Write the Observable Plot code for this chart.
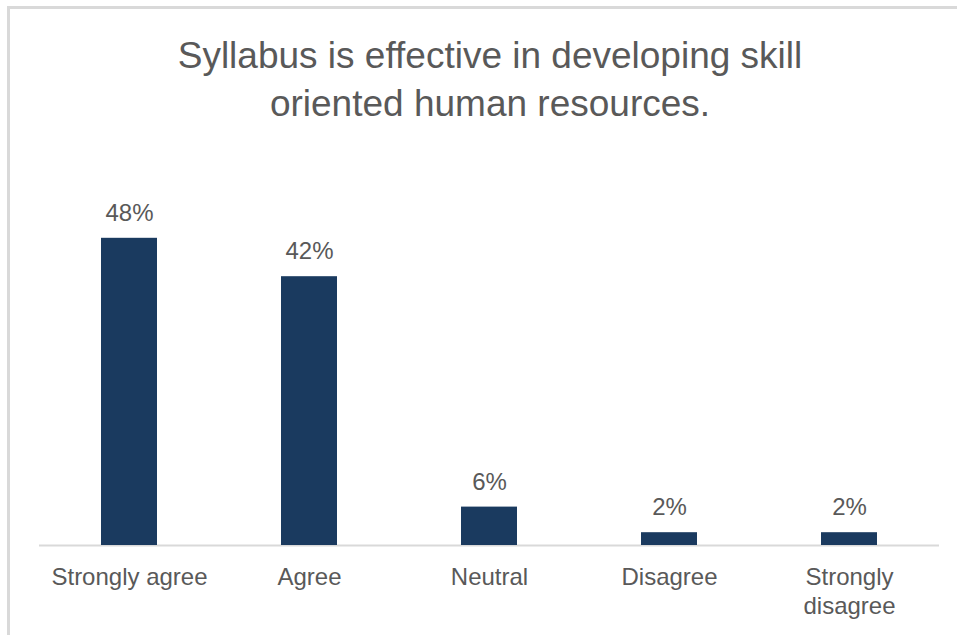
<!DOCTYPE html>
<html>
<head>
<meta charset="utf-8">
<script src="https://cdn.jsdelivr.net/npm/d3@7"></script>
<script src="https://cdn.jsdelivr.net/npm/@observablehq/plot@0.6"></script>
<style>
  html, body { margin: 0; padding: 0; background: #fff; width: 957px; height: 635px; overflow: hidden; }
  #frame { position: absolute; left: 7px; top: 6px; width: 960px; height: 640px;
           border-top: 3px solid #d9d9d9; border-left: 3px solid #d9d9d9; box-sizing: border-box; }
  #title { position: absolute; left: 0; top: 32px; width: 980px; text-align: center;
           font-family: "Liberation Sans", Arial, sans-serif; font-size: 37px; line-height: 48px; color: #595959; }
  #chart { position: absolute; left: 0; top: 150px; }
</style>
</head>
<body>
<div id="frame"></div>
<div id="title">Syllabus is effective in developing skill<br>oriented human resources.</div>
<div id="chart"></div>
<script>
const categories = ["Strongly agree", "Agree", "Neutral", "Disagree", "Strongly disagree"];
const values = [48, 42, 6, 2, 2];
const tickLabels = ["Strongly agree", "Agree", "Neutral", "Disagree", "Strongly\ndisagree"];

const data = categories.map((c, i) => ({category: c, value: values[i], label: values[i] + "%"}));

const chart = Plot.plot({
  width: 957,
  height: 485,
  marginLeft: 39,
  marginRight: 18,
  marginTop: 75,
  marginBottom: 90,
  style: {fontFamily: "'Liberation Sans', Arial, sans-serif", color: "#595959", background: "transparent"},
  x: {domain: categories, padding: 0, label: null},
  y: {domain: [0, 50], axis: null},
  marks: [
    Plot.ruleY([0], {stroke: "#d9d9d9", strokeWidth: 2}),
    Plot.barY(data, {x: "category", y: "value", fill: "#1a3a5f", insetLeft: 62, insetRight: 62}),
    Plot.text(data, {x: "category", y: "value", text: "label", dy: -25, fontSize: 24, fill: "#595959"}),
    Plot.axisX({
      tickSize: 0,
      tickPadding: 20,
      fontSize: 24,
      lineHeight: 1.17,
      tickFormat: (d) => tickLabels[categories.indexOf(d)],
      fill: "#595959",
      label: null
    })
  ]
});
document.getElementById("chart").appendChild(chart);
</script>
</body>
</html>
